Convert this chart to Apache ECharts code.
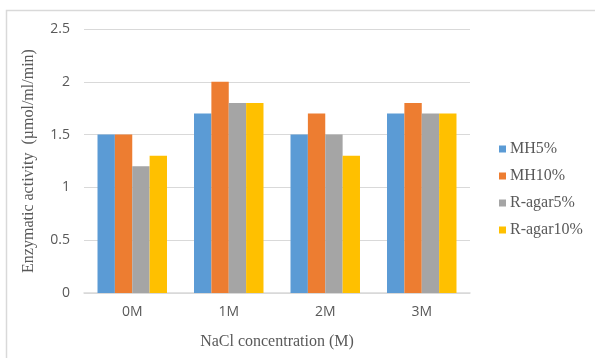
<!DOCTYPE html>
<html>
<head>
<meta charset="utf-8">
<script src="https://cdn.jsdelivr.net/npm/echarts@6/dist/echarts.min.js"></script>
<style>
  html, body { margin: 0; padding: 0; background: #fff; }
  #chart { width: 595px; height: 358px; }
</style>
</head>
<body>
<div id="chart"></div>
<script>
// NaCl concentrations on the x axis
const categories = ['0M', '1M', '2M', '3M'];

// Enzymatic activity (µmol/ml/min) per medium
const mh5 = [1.5, 1.7, 1.5, 1.7];
const mh10 = [1.5, 2.0, 1.7, 1.8];
const ragar5 = [1.2, 1.8, 1.5, 1.7];
const ragar10 = [1.3, 1.8, 1.3, 1.7];

const seriesNames = ['MH5%', 'MH10%', 'R-agar5%', 'R-agar10%'];
const seriesValues = [mh5, mh10, ragar5, ragar10];
const colors = ['#5b9bd5', '#ed7d31', '#a5a5a5', '#ffc000'];

const serif = '"Liberation Serif", "Times New Roman", serif';
const sans = '"Open Sans", "Liberation Sans", sans-serif';

const chart = echarts.init(document.getElementById('chart'), null, { renderer: 'canvas' });

chart.setOption({
  animation: false,
  color: colors,
  graphic: [{
    type: 'rect',
    shape: { x: 6.5, y: 10.5, width: 700, height: 400 },
    style: { fill: 'none', stroke: '#d9d9d9', lineWidth: 1.5 },
    silent: true,
    z: -1
  }],
  grid: { left: 84, right: 125, top: 29, bottom: 65, containLabel: false },
  legend: {
    orient: 'vertical',
    left: 494,
    top: 136,
    itemWidth: 7,
    itemHeight: 7,
    itemGap: 11,
    icon: 'rect',
    textStyle: { fontFamily: serif, fontSize: 16, color: '#595959', padding: [0, 0, 0, -1] },
    data: seriesNames
  },
  xAxis: {
    type: 'category',
    data: categories,
    name: 'NaCl concentration (M)',
    nameLocation: 'middle',
    nameGap: 41,
    nameTextStyle: { fontFamily: serif, fontSize: 16, color: '#595959' },
    axisLine: { lineStyle: { color: '#d9d9d9', width: 1.5 } },
    axisTick: { show: false },
    axisLabel: { fontFamily: sans, fontSize: 14, color: '#595959', margin: 12 }
  },
  yAxis: {
    type: 'value',
    min: 0,
    max: 2.5,
    interval: 0.5,
    name: 'Enzymatic activity  (µmol/ml/min)',
    nameLocation: 'middle',
    nameGap: 47,
    nameTextStyle: { fontFamily: serif, fontSize: 16, color: '#595959' },
    axisLine: { show: false },
    axisTick: { show: false },
    axisLabel: { fontFamily: sans, fontSize: 14, color: '#595959', margin: 14 },
    splitLine: { lineStyle: { color: '#d9d9d9', width: 1 } }
  },
  series: seriesNames.map((name, i) => ({
    name: name,
    type: 'bar',
    data: seriesValues[i],
    barGap: '0%',
    barCategoryGap: '28%'
  }))
});
</script>
</body>
</html>
